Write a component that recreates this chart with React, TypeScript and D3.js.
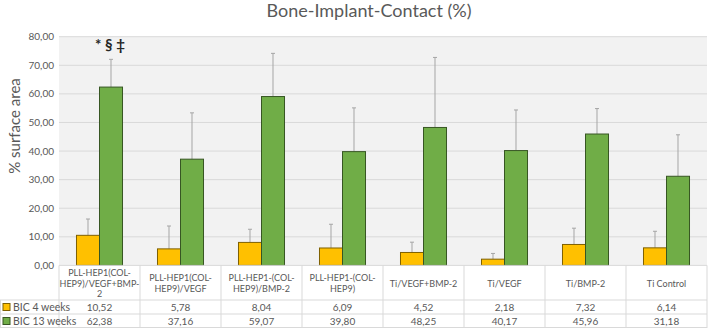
import React from "react";
import * as d3 from "d3";

const categories = [
  ["PLL-HEP1(COL-", "HEP9)/VEGF+BMP-", "2"],
  ["PLL-HEP1(COL-", "HEP9)/VEGF"],
  ["PLL-HEP1-(COL-", "HEP9)/BMP-2"],
  ["PLL-HEP1-(COL-", "HEP9)"],
  ["Ti/VEGF+BMP-2"],
  ["Ti/VEGF"],
  ["Ti/BMP-2"],
  ["Ti Control"],
];
const seriesNames = ["BIC 4 weeks", "BIC 13 weeks"];
const bic4 = [10.52, 5.78, 8.04, 6.09, 4.52, 2.18, 7.32, 6.14];
const bic13 = [62.38, 37.16, 59.07, 39.8, 48.25, 40.17, 45.96, 31.18];
const err4 = [5.7, 8.0, 4.6, 8.3, 3.6, 2.0, 5.7, 5.8];
const err13 = [9.7, 16.2, 15.1, 15.3, 24.5, 14.2, 8.9, 14.5];
const yTicks = [0, 10, 20, 30, 40, 50, 60, 70, 80];

const W = 709;
const H = 328;
const FONT = "Lato, 'Open Sans', sans-serif";
const TEXT = "#595959";
const GRID = "#d9d9d9";
const fills = ["#ffc000", "#70ad47"];
const strokes = ["#7f6000", "#375623"];

const fmt = (v: number) => v.toFixed(2).replace(".", ",");

export default function App() {
  const left = 59;
  const right = 707;
  const top = 36.7;
  const bottom = 265.4;

  const x = d3
    .scaleBand<number>()
    .domain(d3.range(categories.length))
    .range([left, right]);
  const bw = x.bandwidth();
  const xs = d3
    .scaleBand<number>()
    .domain([0, 1])
    .range([0, bw])
    .paddingOuter(0.76);
  const y = d3.scaleLinear().domain([0, 80]).range([bottom, top]);

  const values = [bic4, bic13];
  const errs = [err4, err13];

  const headBottom = 300;
  const row1 = 314;
  const row2 = 328;

  return (
    <svg width={W} height={H} style={{ position: "absolute", left: 0, top: 0 }} fontFamily={FONT}>
      <rect width={W} height={H} fill="#fff" />
      <text x={369} y={17} textAnchor="middle" fontSize={18} fill={TEXT}>
        Bone-Implant-Contact (%)
      </text>
      <rect x={left} y={top} width={right - left} height={bottom - top} fill="#f2f2f2" />
      {yTicks.map((t) => (
        <g key={t}>
          {t > 0 && <line x1={left} x2={right} y1={y(t)} y2={y(t)} stroke={GRID} strokeWidth={1} />}
          <text x={54} y={y(t)} dy="0.35em" textAnchor="end" fontSize={10} fill={TEXT}>
            {fmt(t)}
          </text>
        </g>
      ))}
      <text
        transform={`translate(20, 126) rotate(-90)`}
        textAnchor="middle"
        fontSize={15}
        fill={TEXT}
      >
        % surface area
      </text>

      {/* bars with upward error whiskers */}
      {values.map((vals, s) =>
        vals.map((v, i) => {
          const bx = (x(i) as number) + (xs(s) as number);
          const cx = bx + xs.bandwidth() / 2;
          const topY = y(v + errs[s][i]);
          return (
            <g key={`${s}-${i}`}>
              <line x1={cx} x2={cx} y1={y(v)} y2={topY} stroke="#a5a5a5" strokeWidth={1} />
              <line x1={cx - 2} x2={cx + 2} y1={topY} y2={topY} stroke="#a5a5a5" strokeWidth={1} />
              <rect
                x={bx}
                y={y(v)}
                width={xs.bandwidth()}
                height={bottom - y(v)}
                fill={fills[s]}
                stroke={strokes[s]}
                strokeWidth={1}
              />
            </g>
          );
        })
      )}

      <text x={110} y={50} textAnchor="middle" fontSize={15} fill="#262626" fontWeight="bold">
        *  §  ‡
      </text>

      {/* data table */}
      <g stroke={GRID} strokeWidth={1} fill="none">
        <line x1={left} x2={right} y1={bottom} y2={bottom} />
        <line x1={0} x2={right} y1={headBottom} y2={headBottom} />
        <line x1={0} x2={right} y1={row1} y2={row1} />
        <line x1={0} x2={right} y1={row2 - 0.5} y2={row2 - 0.5} />
        <line x1={0.5} x2={0.5} y1={headBottom} y2={row2} />
        {d3.range(categories.length + 1).map((i) => {
          const xx = i === categories.length ? right : (x(i) as number);
          return <line key={i} x1={xx} x2={xx} y1={bottom} y2={row2} />;
        })}
      </g>
      {categories.map((lines, i) => {
        const cx = (x(i) as number) + bw / 2;
        const lh = 10.5;
        const startY = 283.5 - ((lines.length - 1) * lh) / 2;
        return (
          <g key={i} fill={TEXT} textAnchor="middle">
            {lines.map((l, k) => (
              <text key={k} x={cx} y={startY + k * lh} dy="0.35em" fontSize={9}>
                {l}
              </text>
            ))}
            <text x={cx} y={(headBottom + row1) / 2} dy="0.35em" fontSize={10}>
              {fmt(bic4[i])}
            </text>
            <text x={cx} y={(row1 + row2) / 2} dy="0.35em" fontSize={10}>
              {fmt(bic13[i])}
            </text>
          </g>
        );
      })}
      {seriesNames.map((n, s) => {
        const cy = s === 0 ? (headBottom + row1) / 2 : (row1 + row2) / 2;
        return (
          <g key={n}>
            <rect x={3} y={cy - 3.5} width={7} height={7} fill={fills[s]} stroke={strokes[s]} strokeWidth={1} />
            <text x={13} y={cy} dy="0.35em" fontSize={10.5} fill={TEXT}>
              {n}
            </text>
          </g>
        );
      })}
    </svg>
  );
}
